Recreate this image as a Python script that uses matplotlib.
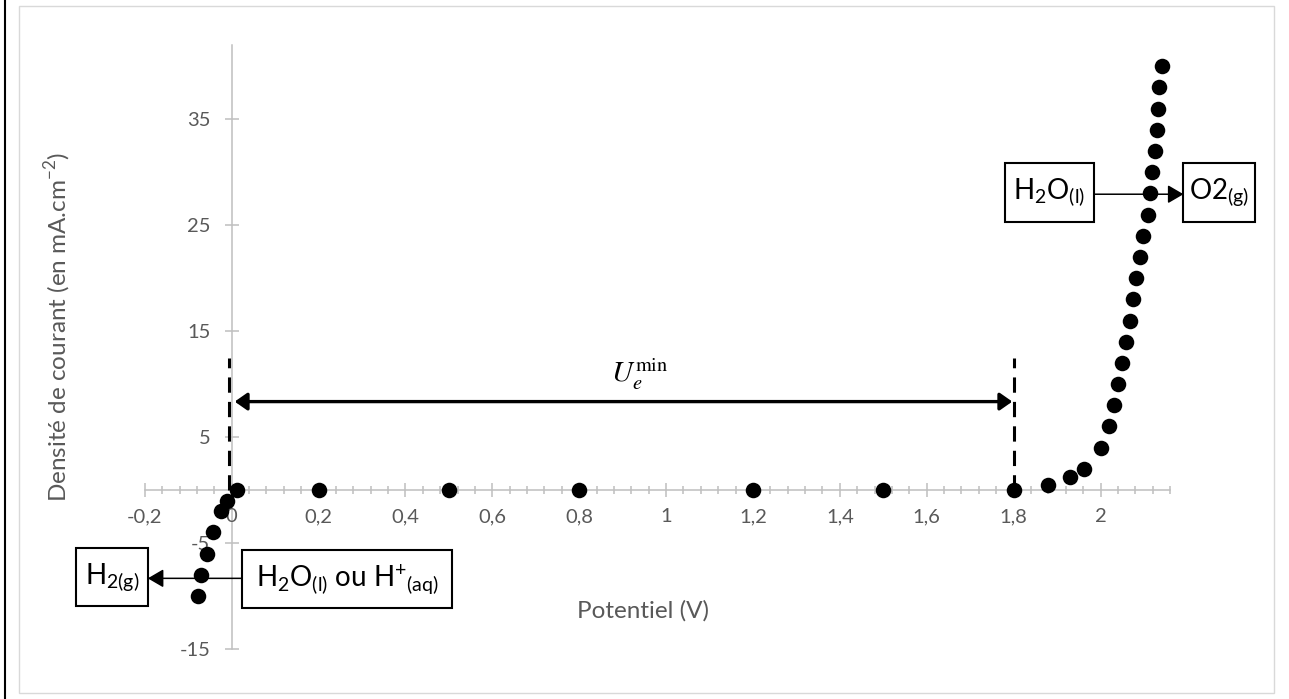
import numpy as np
import matplotlib
matplotlib.use('Agg')
import matplotlib.pyplot as plt
from matplotlib.patches import Rectangle
from matplotlib.lines import Line2D

plt.rcParams['font.family'] = ['Lato', 'DejaVu Sans']
plt.rcParams['axes.unicode_minus'] = False

# Points de la courbe intensité-potentiel
potentiel = [-0.078, -0.070, -0.057, -0.043, -0.024, -0.010, 0.013,
             0.2, 0.5, 0.8, 1.2, 1.5, 1.8,
             1.88, 1.93, 1.961, 2.0, 2.02, 2.032, 2.04, 2.05, 2.059, 2.068,
             2.075, 2.081, 2.091, 2.097, 2.109, 2.113, 2.119, 2.125, 2.13,
             2.132, 2.134, 2.142]
densite = [-10, -8, -6, -4, -2, -1, 0,
           0, 0, 0, 0, 0, 0,
           0.5, 1.2, 2, 4, 6, 8, 10, 12, 14, 16,
           18, 20, 22, 24, 26, 28, 30, 32,
           34, 36, 38, 40]

xticks = [-0.2, 0, 0.2, 0.4, 0.6, 0.8, 1, 1.2, 1.4, 1.6, 1.8, 2]
xlabels = ['-0,2', '0', '0,2', '0,4', '0,6', '0,8', '1', '1,2', '1,4', '1,6', '1,8', '2']
yticks = [-15, -5, 5, 15, 25, 35]
ylabels = ['-15', '-5', '5', '15', '25', '35']

bornes = [-0.007, 1.802]   # traits pointillés (limites de U_e min)
GRIS = '#595959'
AXE = '#bfbfbf'

fig = plt.figure(figsize=(12.89, 6.99), dpi=100)
ax = fig.add_axes([0.1123, 0.0715, 0.7954, 0.8641])
ax.set_xlim(-0.2, 2.15)
ax.set_ylim(-15, 42)

ax.spines['left'].set_position(('data', 0))
ax.spines['bottom'].set_position(('data', 0))
ax.spines[['top', 'right']].set_visible(False)
for s in ['left', 'bottom']:
    ax.spines[s].set_color(AXE)
    ax.spines[s].set_linewidth(1.1)
    ax.spines[s].set_zorder(1)

ax.set_xticks(xticks, xlabels)
ax.set_xticks(np.arange(-0.2, 2.16, 0.04), minor=True)
ax.set_yticks(yticks, ylabels)
ax.tick_params(which='major', direction='inout', length=10.5, width=1.1,
               color=AXE, labelcolor=GRIS, labelsize=14.5)
ax.tick_params(axis='x', which='minor', direction='inout', length=5.8,
               width=1.1, color=AXE)
ax.tick_params(axis='x', pad=8)
ax.tick_params(axis='y', pad=10)

ax.scatter(potentiel, densite, s=125, c='black', linewidths=0,
           zorder=5, clip_on=False)

# pointillés verticaux + double flèche U_e min
for b in bornes:
    ax.plot([b, b], [0, 12.5], color='black', lw=2.2, ls=(0, (5, 3)), zorder=3)
ax.annotate('', xy=(0.007, 8.35), xytext=(1.797, 8.35),
            arrowprops=dict(arrowstyle='<|-|>,head_length=0.5,head_width=0.35',
                            mutation_scale=15, lw=2.4, color='black',
                            shrinkA=0, shrinkB=0))
ax.text(0.94, 10.9, r'$U_e^{\mathrm{min}}$', math_fontfamily='stix',
        fontsize=21, ha='center', va='center')


def boite(x0, x1, y0, y1, texte):
    ax.add_patch(Rectangle((x0, y0), x1 - x0, y1 - y0, fc='white', ec='black',
                           lw=1.5, clip_on=False, zorder=6))
    ax.text((x0 + x1) / 2, (y0 + y1) / 2, texte, fontsize=20, ha='center',
            va='center', zorder=7, clip_on=False)


def fleche(xa, xb, y):
    ax.annotate('', xy=(xb, y), xytext=(xa, y), annotation_clip=False,
                arrowprops=dict(arrowstyle='-|>,head_length=0.6,head_width=0.35',
                                mutation_scale=16, lw=1.1, color='black',
                                shrinkA=0, shrinkB=0))


boite(-0.358, -0.193, -10.94, -5.47, r'$\mathregular{H_{2(g)}}$')
boite(0.024, 0.508, -11.10, -5.66,
      r'$\mathregular{H_2O_{(l)}}$ ou $\mathregular{H^{+}{}_{(aq)}}$')
fleche(0.024, -0.193, -8.33)

boite(1.779, 1.985, 25.31, 30.88, r'$\mathregular{H_2O_{(l)}}$')
boite(2.191, 2.356, 25.31, 30.88, r'$\mathregular{O2_{(g)}}$')
fleche(1.985, 2.191, 27.92)

ax.text(0.486, 0.063, 'Potentiel (V)', transform=ax.transAxes, ha='center',
        va='center', color=GRIS, fontsize=17.5)
ax.text(-0.085, 0.533, r'Densité de courant (en mA.cm$^{\mathregular{-2}}$)',
        transform=ax.transAxes, rotation=90, ha='center', va='center',
        color=GRIS, fontsize=17.5)

# cadre du graphique et trait de bord à gauche
fig.add_artist(Rectangle((0.0147, 0.0086), 0.9737, 0.9828, fill=False,
                         ec='#d9d9d9', lw=1, transform=fig.transFigure))
fig.add_artist(Line2D([0.004, 0.004], [0, 1], color='black', lw=1.5,
                      transform=fig.transFigure))

fig.savefig('out.png', dpi=100)
